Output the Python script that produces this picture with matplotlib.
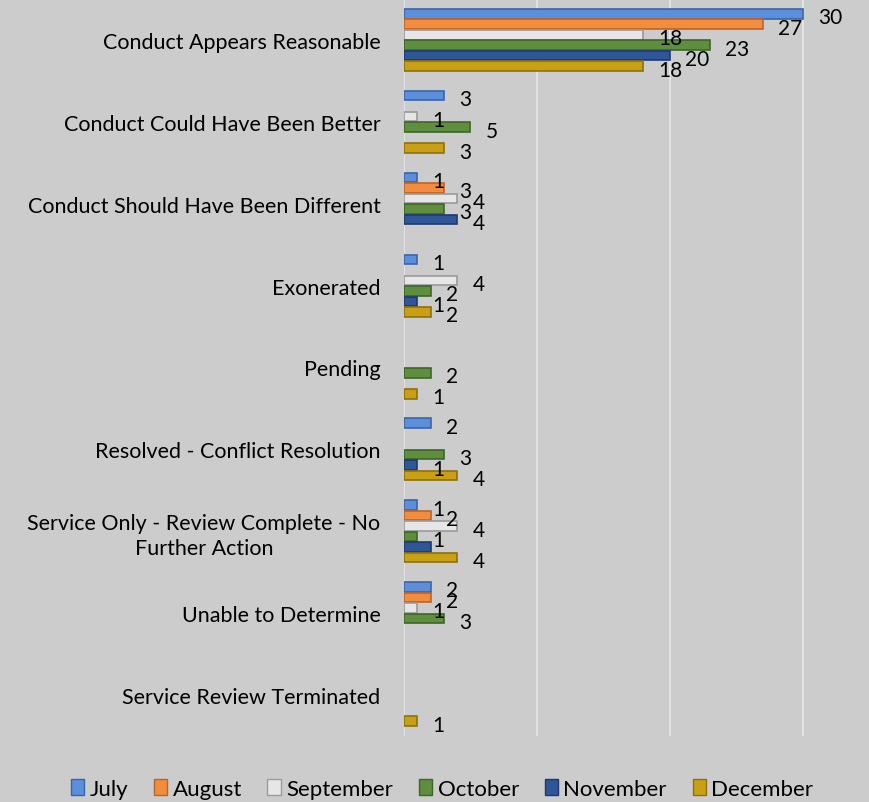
import numpy as np
import matplotlib
matplotlib.use("Agg")
import matplotlib.pyplot as plt
from matplotlib.patches import Patch

categories = ["Conduct Appears Reasonable",
              "Conduct Could Have Been Better",
              "Conduct Should Have Been Different",
              "Exonerated",
              "Pending",
              "Resolved - Conflict Resolution",
              "Service Only - Review Complete - No\nFurther Action",
              "Unable to Determine",
              "Service Review Terminated"]
months = ["July", "August", "September", "October", "November", "December"]

july      = [30, 3, 1, 1, 0, 2, 1, 2, 0]
august    = [27, 0, 3, 0, 0, 0, 2, 2, 0]
september = [18, 1, 4, 4, 0, 0, 4, 1, 0]
october   = [23, 5, 3, 2, 2, 3, 1, 3, 0]
november  = [20, 0, 4, 1, 0, 1, 2, 0, 0]
december  = [18, 3, 0, 2, 1, 4, 4, 0, 1]
series = [july, august, september, october, november, december]

# labels Excel dropped (series index, category index)
hidden_labels = [(4, 6)]

face = ["#5B8FDB", "#F28C3E", "#E6E6E6", "#5E8E3E", "#2F5699", "#C9A015"]
edge = ["#3A64A8", "#B8652A", "#9A9A9A", "#3E6628", "#1D3A6E", "#8E700C"]
bg = "#CCCCCC"

plt.rcParams['font.family'] = ['Lato', 'DejaVu Sans']

fig = plt.figure(figsize=(8.69, 8.03), dpi=100, facecolor=bg)
ax = fig.add_axes([404 / 869, 66 / 803, 1 - 404 / 869, 737 / 803])
ax.set_facecolor(bg)

y = np.arange(len(categories))
slot = 0.128
bar_h = 0.118
for i, vals in enumerate(series):
    pos = y + (i - 2.5) * slot
    vals = np.array(vals)
    mask = vals > 0
    ax.barh(pos[mask], vals[mask], height=bar_h, color=face[i],
            edgecolor=edge[i], linewidth=1.2, zorder=3)
    for j in range(len(categories)):
        if vals[j] > 0 and (i, j) not in hidden_labels:
            ax.annotate(str(vals[j]), (vals[j], pos[j]), xytext=(11, -2.5),
                        textcoords="offset points", ha="left", va="center",
                        fontsize=15, color="black", zorder=4)

ax.set_xlim(0, 35)
ax.set_ylim(len(categories) - 0.5, -0.5)
ax.set_xticks([0, 10, 20, 30])
ax.set_xticklabels([])
ax.grid(axis="x", color="#E2E2E2", linewidth=1.5, zorder=0)
ax.set_yticks(y)
ax.set_yticklabels(categories, fontsize=15.5, multialignment="center", linespacing=1.3)
ax.tick_params(axis="y", length=0, pad=17)
ax.tick_params(axis="x", length=0)
for s in ax.spines.values():
    s.set_visible(False)

handles = [Patch(facecolor=face[i], edgecolor=edge[i], label=m) for i, m in enumerate(months)]
fig.legend(handles=handles, loc="center", bbox_to_anchor=(442 / 869, 1 - 790 / 803),
           ncol=6, frameon=False, fontsize=16, handlelength=0.6, handleheight=0.75,
           handletextpad=0.25, columnspacing=1.15, borderpad=0.1)

fig.savefig("out.png", dpi=100, facecolor=bg)
